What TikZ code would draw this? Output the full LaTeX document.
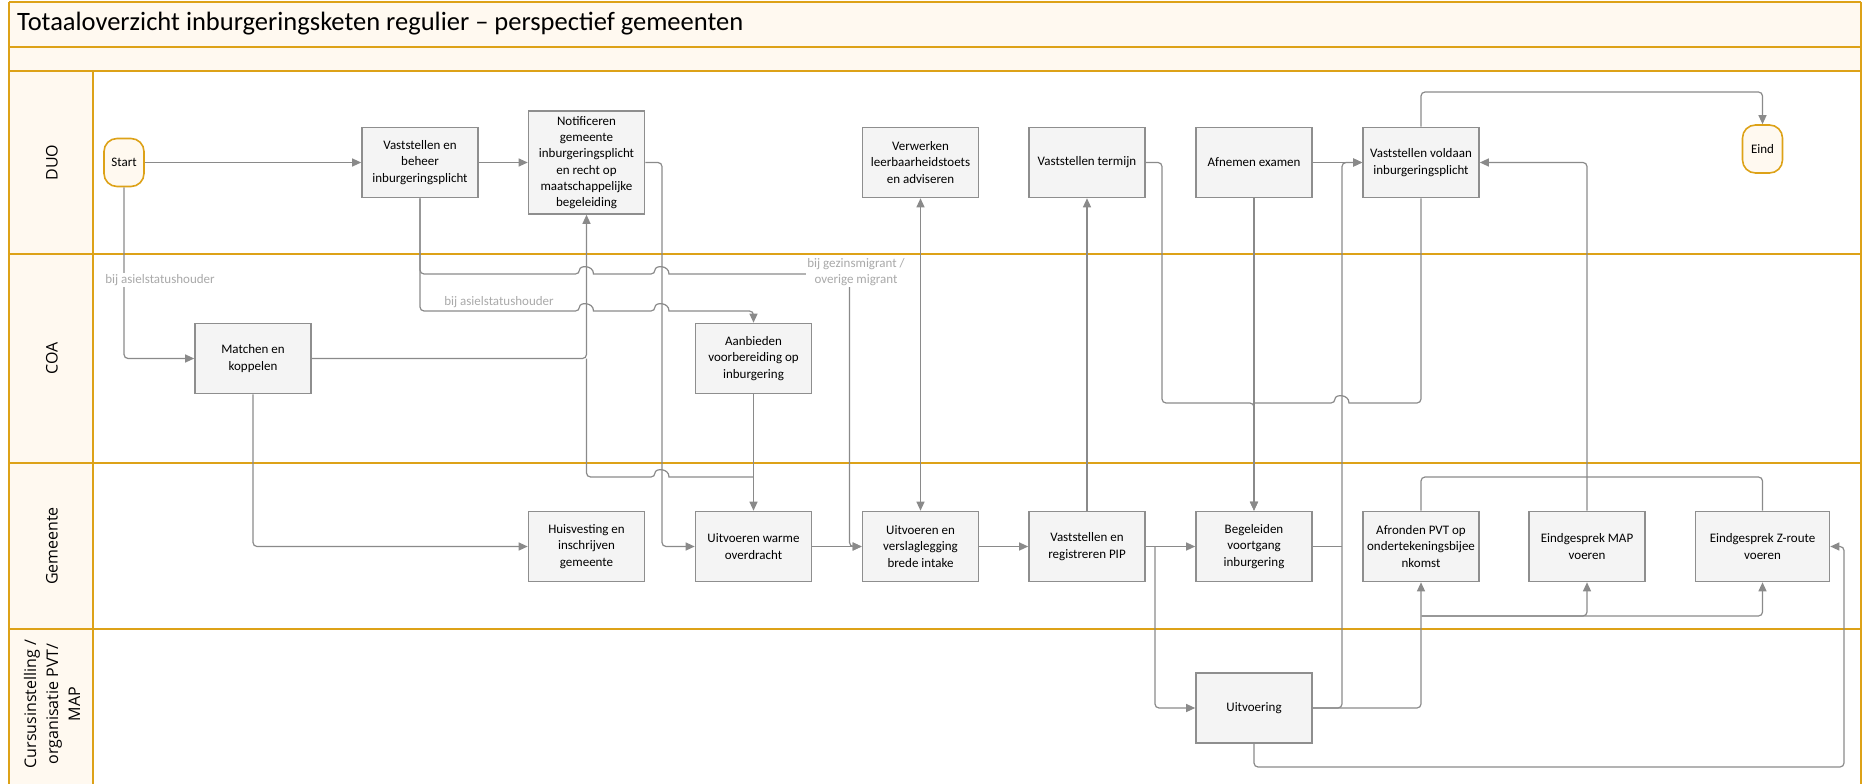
\documentclass[tikz,border=0pt]{standalone}
\usepackage{fontspec}
\setmainfont{Carlito}
\newfontfamily\lanefont{Open Sans}
\usetikzlibrary{arrows.meta}
\definecolor{lanegold}{HTML}{DDA218}
\definecolor{lanecream}{HTML}{FFF9F0}
\definecolor{taskfill}{HTML}{F4F4F4}
\definecolor{taskline}{HTML}{8E8E8E}
\definecolor{flowgray}{HTML}{8A8A8A}
\definecolor{notegray}{HTML}{A9A9A9}

% line jump over a crossing connector (going right)
\newcommand{\hop}[2]{-- ({#1-7},#2) [sharp corners] .. controls ({#1-7},{#2-9}) and ({#1+7},{#2-9}) .. ({#1+7},#2) [rounded corners=4pt]}

\tikzset{
  task/.style={draw=taskline, line width=1.6pt, fill=taskfill, minimum width=116pt,
    minimum height=70pt, align=center, inner sep=2pt,
    font=\fontsize{13}{16.3}\selectfont},
  terminal/.style={draw=lanegold, line width=1.6pt, fill=lanecream, rounded corners=13pt,
    minimum width=40pt, minimum height=48pt, inner sep=0pt,
    font=\fontsize{13}{16}\selectfont},
  flow/.style={draw=flowgray, line width=1.2pt, rounded corners=4pt},
  note/.style={text=notegray, font=\fontsize{13}{16}\selectfont, inner sep=1pt, align=center},
  lanelabel/.style={rotate=90, align=center, font=\lanefont\fontsize{16}{22}\selectfont},
  laneline/.style={draw=lanegold, line width=2.6pt},
}

\begin{document}
\begin{tikzpicture}[x=1pt, y=-1pt, >={Triangle[length=9pt,width=8pt]}]
    \useasboundingbox (0,0) rectangle (1864,784);

    % ── Swimlane frame ───────────────────────────────────────────────────────
    \fill[lanecream] (9,2) rectangle (1861,71);
    \fill[lanecream] (9,71) rectangle (93,784);
    \draw[laneline] (9,2) -- (1861,2);
    \draw[laneline] (9,47) -- (1861,47);
    \draw[laneline] (9,71) -- (1861,71);
    \draw[laneline] (9,254) -- (1861,254);
    \draw[laneline] (9,463) -- (1861,463);
    \draw[laneline] (9,629) -- (1861,629);
    \draw[laneline] (9,2) -- (9,784);
    \draw[laneline] (1861,2) -- (1861,784);
    \draw[laneline] (93,71) -- (93,784);

    \node[anchor=west, font=\fontsize{26.5}{30}\selectfont, inner sep=0pt] (title) at (17,24)
        {Totaaloverzicht inburgeringsketen regulier – perspectief gemeenten};

    \node[lanelabel] (duo) at (52,162.5) {DUO};
    \node[lanelabel] (coa) at (52,358.5) {COA};
    \node[lanelabel] (gemeente) at (52,546) {Gemeente};
    \node[lanelabel] (cursus) at (52,704) {Cursusinstelling /\\organisatie PVT/\\MAP};

    % ── DUO ──────────────────────────────────────────────────────────────────
    \node[terminal] (start) at (124,162.5) {Start};
    \node[task] (beheer) at (420,162.5) {Vaststellen en\\beheer\\inburgeringsplicht};
    \node[task, minimum height=103pt] (notif) at (586.5,162.5)
        {Notificeren\\gemeente\\inburgeringsplicht\\en recht op\\maatschappelijke\\begeleiding};
    \node[task] (leerb) at (920.5,162.5) {Verwerken\\leerbaarheidstoets\\en adviseren};
    \node[task] (termijn) at (1087,162.5) {Vaststellen termijn};
    \node[task] (examen) at (1254,162.5) {Afnemen examen};
    \node[task] (voldaan) at (1421,162.5) {Vaststellen voldaan\\inburgeringsplicht};
    \node[terminal] (eind) at (1762.5,149) {Eind};

    % ── COA ──────────────────────────────────────────────────────────────────
    \node[task] (matchen) at (253,358.5) {Matchen en\\koppelen};
    \node[task] (aanbieden) at (753.5,358.5) {Aanbieden\\voorbereiding op\\inburgering};

    % ── Gemeente ─────────────────────────────────────────────────────────────
    \node[task] (huisv) at (586.5,546.5) {Huisvesting en\\inschrijven\\gemeente};
    \node[task] (warme) at (753.5,546.5) {Uitvoeren warme\\overdracht};
    \node[task] (intake) at (920.5,546.5) {Uitvoeren en\\verslaglegging\\brede intake};
    \node[task] (pip) at (1087,546.5) {Vaststellen en\\registreren PIP};
    \node[task] (begel) at (1254,546.5) {Begeleiden\\voortgang\\inburgering};
    \node[task] (pvt) at (1421,546.5) {Afronden PVT op\\ondertekeningsbijee\\nkomst};
    \node[task] (map) at (1587,546.5) {Eindgesprek MAP\\voeren};
    \node[task, minimum width=134pt] (zroute) at (1762.5,546.5) {Eindgesprek Z-route\\voeren};

    % ── Cursusinstelling ─────────────────────────────────────────────────────
    \node[task] (uitv) at (1254,708) {Uitvoering};

    % ── Junctions ────────────────────────────────────────────────────────────
    \coordinate (jmatch) at (586.5,358.5);
    \coordinate (jwarme) at (753.5,477);
    \coordinate (jbegel) at (1254,403);
    \coordinate (jpip) at (1155,546.5);
    \coordinate (jtop) at (1587,477);
    \coordinate (jbottom) at (1421.5,616);

    % ── Connectors ───────────────────────────────────────────────────────────
    \draw[flow,->] (start) -- (beheer);
    \draw[flow,->] (beheer) -- (notif);
    \draw[flow,->] (examen) -- (voldaan);
    \draw[flow,->] (start.south) |- (matchen.west);
    \node[note, fill=white] (asiel1) at (160,280) {bij asielstatushouder};

    \draw[flow,->] (beheer.south) -- (420,274) \hop{586.5}{274} \hop{662}{274}
        -- (849.5,274) -- (849.5,546.5) -- (intake.west);
    \node[note, fill=white] (gezins) at (856,272) {bij gezinsmigrant /\\overige migrant};
    \draw[flow,->] (beheer.south) -- (420,311) \hop{586.5}{311} \hop{662}{311}
        -- (753.5,311) -- (aanbieden.north);
    \node[note, anchor=south] (asiel2) at (499,309) {bij asielstatushouder};

    \draw[flow,->] (matchen.east) -| (notif.south);
    \draw[flow] (jmatch) -- (586.5,477) \hop{662}{477} -- (jwarme);
    \draw[flow,->] (matchen.south) |- (huisv.west);
    \draw[flow,->] (notif.east) -- (662,162.5) |- (warme.west);
    \draw[flow,->] (aanbieden) -- (warme);
    \draw[flow,->] (warme) -- (intake);
    \draw[flow,<->] (leerb) -- (intake);
    \draw[flow,->] (intake) -- (pip);
    \draw[flow,->] (pip) -- (termijn);
    \draw[flow,->] (pip) -- (begel);
    \draw[flow,->] (jpip) |- (uitv.west);

    \draw[flow,->] (termijn.east) -| (1162,403) -| (begel.north);
    \draw[flow] (jbegel) \hop{1342}{403} -- (1421,403) -- (voldaan.south);
    \draw[flow,->] (examen) -- (begel);
    \draw[flow,->] (voldaan.north) |- (1762.5,92) -- (eind.north);

    \draw[flow,->] (uitv.east) -- (1342,708) -- (1342,162.5) -- (voldaan.west);
    \draw[flow] (begel.east) -- (1342,546.5);
    \draw[flow,->] (uitv.east) -| (pvt.south);
    \draw[flow,->] (jbottom) -| (map.south);
    \draw[flow,->] (jbottom) -| (zroute.south);
    \draw[flow,->] (uitv.south) |- (1844,767) |- (zroute.east);

    \draw[flow,->] (map.north) |- (voldaan.east);
    \draw[flow] (pvt.north) |- (jtop);
    \draw[flow] (zroute.north) |- (jtop);

\end{tikzpicture}
\end{document}
